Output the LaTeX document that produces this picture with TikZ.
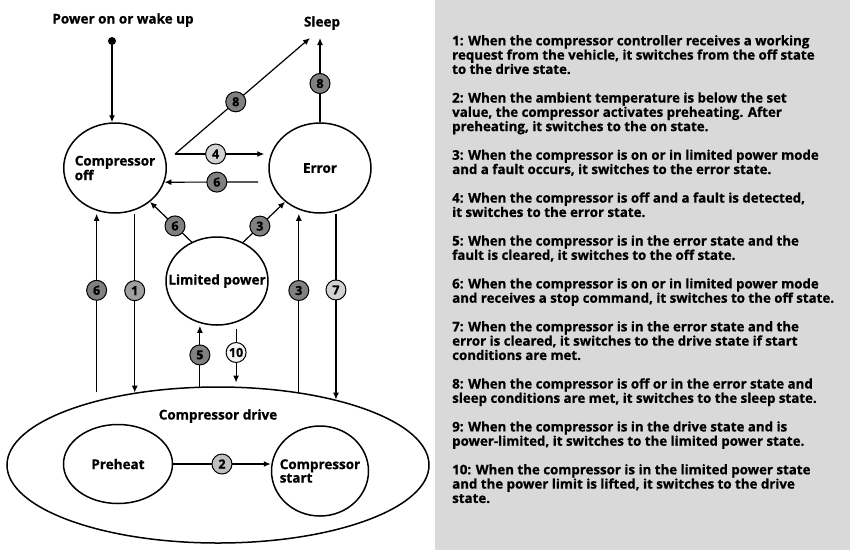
\documentclass[tikz,border=0pt]{standalone}
\usepackage{fontspec}
\setmainfont{Open Sans}[BoldFeatures={FakeBold=0.8}]
\usetikzlibrary{shapes.geometric,arrows.meta}
\definecolor{panelgray}{HTML}{D9D9D9}
\definecolor{darkbadge}{HTML}{808080}
\definecolor{midbadge}{HTML}{A0A0A0}
\definecolor{lightbadge}{HTML}{C0C0C0}
\definecolor{palebadge}{HTML}{D2D2D2}
\definecolor{whitebadge}{HTML}{F4F4F4}
\begin{document}
\begin{tikzpicture}[x=1pt,y=-1pt,
        font=\bfseries\fontsize{13.5}{13.5}\selectfont,
        state/.style={draw,ellipse,line width=1.5pt,inner sep=0pt,align=left},
        badge/.style={draw,circle,line width=1pt,minimum size=20pt,inner sep=0pt,font=\bfseries\fontsize{12.5}{12.5}\selectfont},
        tr/.style={line width=1.2pt,-{Latex[length=7pt,width=6pt]}}]
            \useasboundingbox (0,0) rectangle (850,550);
            \fill[panelgray] (435,0) rectangle (850,550);

            \node (pwrlabel) at (123,20) {Power on or wake up};
            \node[circle,fill,inner sep=0pt,minimum size=8pt] (pwr) at (112,41) {};
            \node (sleep) at (322,23) {Sleep};

            \node[state,inner xsep=-4pt,minimum width=102pt,minimum height=90pt] (off) at (115,168) {Compressor\\off};
            \node[state,minimum width=102pt,minimum height=90pt] (err) at (320,168) {Error};
            \node[state,inner xsep=-14pt,minimum width=102pt,minimum height=88pt] (lim) at (217,281) {Limited power};
            \node[state,minimum width=422pt,minimum height=156pt] (drive) at (218,465) {};
            \node (drivelabel) at (218,416) {Compressor drive};
            \node[state,minimum width=109pt,minimum height=79pt] (pre) at (118,464) {Preheat};
            \node[state,inner xsep=-8pt,minimum width=97pt,minimum height=90pt] (start) at (320,471) {Compressor\\start};

            \coordinate (fork) at (175,154);
            \coordinate (tosleep) at (310,38);
            \coordinate (errout) at (258,182);

            \draw[tr] (pwr) -- (pwr |- off.north);
            \draw[tr] (err.north) -- (err.north |- tosleep) node[badge,fill=darkbadge,pos=0.46] {8};
            \draw[tr] (fork) -- (tosleep) node[badge,fill=darkbadge,pos=0.45] {8};
            \draw[tr] (fork) -- ([xshift=-4pt]err.west |- fork) node[badge,fill=palebadge,pos=0.455] {4};
            \draw[tr] (errout) -- (off.-16) node[badge,fill=darkbadge,pos=0.44] {6};
            \draw[tr] (lim.123) -- (off.-44) node[badge,fill=darkbadge,pos=0.4] {6};
            \draw[tr] (lim.56) -- (err.224) node[badge,fill=darkbadge,pos=0.4] {3};

            \draw[tr,shorten <=8pt] (drive.152) -- (off.south -| drive.152) node[badge,fill=darkbadge,pos=0.59] {6};
            \draw[tr] (off.south -| drive.139) -- (drive.139) node[badge,fill=midbadge,pos=0.43] {1};
            \draw[tr] (drive.103) -- (lim.south -| drive.103) node[badge,fill=darkbadge,pos=0.52] {5};
            \draw[tr,shorten <=3pt,shorten >=4pt] (lim.south -| drive.77) -- (drive.77) node[badge,fill=whitebadge,pos=0.44] {10};
            \draw[tr] (drive.42) -- (err.south -| drive.42) node[badge,fill=darkbadge,pos=0.57] {3};
            \draw[tr] (err.south -| drive.29) -- (drive.29) node[badge,fill=palebadge,pos=0.41] {7};
            \draw[tr] (pre.east) -- (pre.east -| start.west) node[badge,fill=lightbadge,midway] {2};

            \node[anchor=north west,align=left,inner sep=0pt,font=\bfseries\fontsize{13.3}{14.3}\selectfont] (notes) at (452,35) {%
                1: When the compressor controller receives a working\\
                request from the vehicle, it switches from the off state\\
                to the drive state.\\[14.3pt]
                2: When the ambient temperature is below the set\\
                value, the compressor activates preheating. After\\
                preheating, it switches to the on state.\\[14.3pt]
                3: When the compressor is on or in limited power mode\\
                and a fault occurs, it switches to the error state.\\[14.3pt]
                4: When the compressor is off and a fault is detected,\\
                it switches to the error state.\\[14.3pt]
                5: When the compressor is in the error state and the\\
                fault is cleared, it switches to the off state.\\[14.3pt]
                6: When the compressor is on or in limited power mode\\
                and receives a stop command, it switches to the off state.\\[14.3pt]
                7: When the compressor is in the error state and the\\
                error is cleared, it switches to the drive state if start\\
                conditions are met.\\[14.3pt]
                8: When the compressor is off or in the error state and\\
                sleep conditions are met, it switches to the sleep state.\\[14.3pt]
                9: When the compressor is in the drive state and is\\
                power-limited, it switches to the limited power state.\\[14.3pt]
                10: When the compressor is in the limited power state\\
                and the power limit is lifted, it switches to the drive\\
                state.};
        \end{tikzpicture}
\end{document}
